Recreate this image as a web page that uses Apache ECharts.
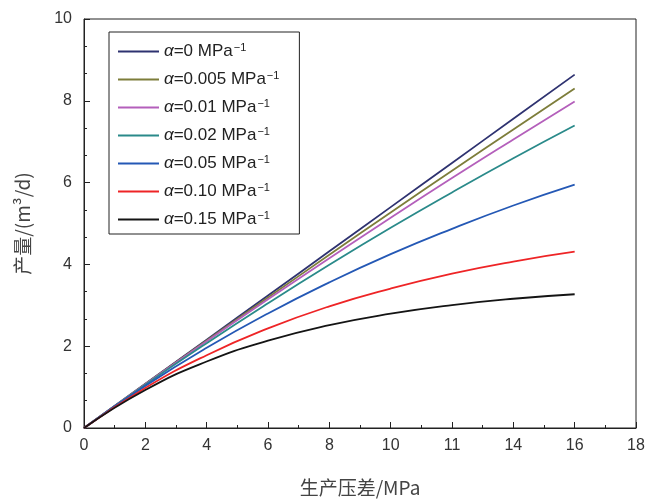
<!DOCTYPE html>
<html>
<head>
  <meta charset="UTF-8">
  <script src="https://cdn.jsdelivr.net/npm/echarts@6/dist/echarts.min.js"></script>
  <style>
    html, body { margin: 0; padding: 0; background: #fff; }
    #chart { width: 660px; height: 504px; }
  </style>
</head>
<body>
  <div id="chart"></div>
  <script>
    // pressure difference (MPa)
    var pressure = [0, 2, 4, 6, 8, 10, 12, 14, 16];
    var alphas = ['0', '0.005', '0.01', '0.02', '0.05', '0.10', '0.15'];
    var colors = ['#2e3270', '#7d7d3a', '#b45fbb', '#2a8a8a', '#2458b5', '#ee2426', '#141414'];
    // production (m3/d)
    var q000 = [0, 1.08, 2.16, 3.24, 4.32, 5.40, 6.48, 7.56, 8.64];
    var q005 = [0, 1.075, 2.14, 3.19, 4.235, 5.27, 6.29, 7.30, 8.30];
    var q010 = [0, 1.07, 2.12, 3.145, 4.15, 5.14, 6.11, 7.055, 7.985];
    var q020 = [0, 1.06, 2.075, 3.05, 3.99, 4.895, 5.76, 6.595, 7.395];
    var q050 = [0, 1.03, 1.96, 2.80, 3.56, 4.25, 4.87, 5.44, 5.95];
    var q100 = [0, 0.98, 1.78, 2.435, 2.975, 3.41, 3.775, 4.07, 4.31];
    var q150 = [0, 0.93, 1.625, 2.135, 2.515, 2.795, 3.005, 3.16, 3.27];
    // the source figure prints "11" under 12
    var xTickLabels = ['0', '2', '4', '6', '8', '10', '11', '14', '16', '18'];

    var allQ = [q000, q005, q010, q020, q050, q100, q150];
    var font = 'Arial';
    var cjk = 'Noto Sans CJK SC';

    var series = alphas.map(function (a, i) {
      return {
        name: a,
        type: 'line',
        smooth: true,
        symbol: 'none',
        lineStyle: { color: colors[i], width: 1.8 },
        itemStyle: { color: colors[i] },
        data: pressure.map(function (p, j) { return [p, allQ[i][j]]; })
      };
    });

    var chart = echarts.init(document.getElementById('chart'));
    chart.setOption({
      backgroundColor: '#fff',
      animation: false,
      grid: {
        left: 84, right: 24, top: 19, bottom: 76,
        show: true, borderColor: '#222', borderWidth: 1
      },
      legend: {
        left: 109, top: 32,
        orient: 'vertical',
        itemWidth: 41, itemHeight: 14, itemGap: 10,
        padding: [10, 20, 6, 8],
        borderColor: '#222', borderWidth: 1,
        itemStyle: { opacity: 0 },
        data: alphas,
        formatter: function (name) { return '{i|α}{t|=' + name + ' MPa}{s|−1}'; },
        textStyle: {
          fontFamily: font, fontSize: 17, color: '#222',
          rich: {
            i: { fontFamily: font, fontSize: 17, fontStyle: 'italic', color: '#222' },
            t: { fontFamily: font, fontSize: 17, color: '#222' },
            s: { fontFamily: font, fontSize: 11, color: '#222', verticalAlign: 'top', padding: [0, 0, 8, 1] }
          }
        }
      },
      xAxis: {
        type: 'value', min: 0, max: 18, interval: 2,
        name: '生产压差/MPa', nameLocation: 'middle', nameGap: 50,
        nameTextStyle: { fontFamily: cjk, fontSize: 19, color: '#444' },
        axisLine: { lineStyle: { color: '#222', width: 1 } },
        axisTick: { inside: true, length: 6, lineStyle: { color: '#222' } },
        minorTick: { show: true, splitNumber: 2, length: 3, lineStyle: { color: '#222' } },
        splitLine: { show: false },
        axisLabel: {
          fontFamily: font, fontSize: 16, color: '#333', margin: 10,
          formatter: function (v) { return xTickLabels[Math.round(v / 2)]; }
        }
      },
      yAxis: {
        type: 'value', min: 0, max: 10, interval: 2,
        name: '产量/(m³/d)', nameLocation: 'middle', nameGap: 52, nameRotate: 90,
        nameTextStyle: { fontFamily: cjk, fontSize: 19, color: '#444' },
        axisLine: { lineStyle: { color: '#222', width: 1 } },
        axisTick: { inside: true, length: 6, lineStyle: { color: '#222' } },
        minorTick: { show: true, splitNumber: 3, length: 3, lineStyle: { color: '#222' } },
        splitLine: { show: false },
        axisLabel: { fontFamily: font, fontSize: 16, color: '#333', margin: 12 }
      },
      series: series
    });
  </script>
</body>
</html>
